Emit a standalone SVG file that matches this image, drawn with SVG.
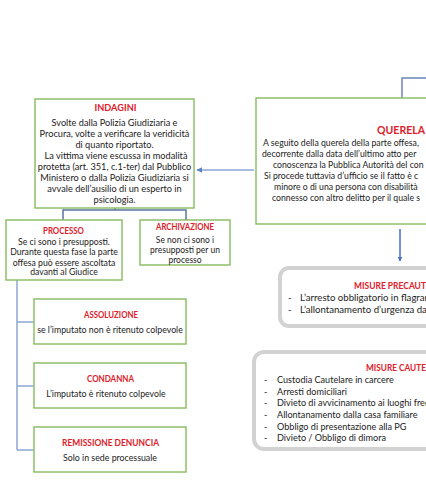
<svg xmlns="http://www.w3.org/2000/svg" width="426" height="480" viewBox="0 0 426 480">
<defs>
<style>
.box{fill:#fff;stroke:#8fbf6a;stroke-width:1.5}
.mis{fill:#fff;stroke:#d2d2d2;stroke-width:4}
.t{font-family:Lato,"Liberation Sans",sans-serif;font-size:8.8px;fill:#222}
.q{font-size:8.7px}
.i{font-size:9.2px}
.a{font-size:8.5px}
.p{font-size:9.6px}
.k{font-size:9.1px}
.c{text-anchor:middle}
.h{font-family:Lato,"Liberation Sans",sans-serif;font-weight:bold;font-size:9px;fill:#e0202a;text-anchor:middle}
.hs{font-family:Lato,"Liberation Sans",sans-serif;font-weight:bold;font-size:9px;fill:#e0202a}
.conn{fill:none;stroke-width:1.5}
</style>
<marker id="ah" viewBox="0 0 10 10" refX="9" refY="5" markerWidth="5" markerHeight="5" orient="auto" markerUnits="userSpaceOnUse">
<path d="M0,0 L10,5 L0,10 z" fill="#4472c4"/>
</marker>
<marker id="ah2" viewBox="0 0 10 10" refX="9" refY="5" markerWidth="6" markerHeight="6" orient="auto" markerUnits="userSpaceOnUse">
<path d="M0,0 L10,5 L0,10 z" fill="#5b82c8"/>
</marker>
</defs>
<rect width="426" height="480" fill="#fff"/>

<g id="connectors">
<path class="conn" d="M426,78 H402 V98" stroke="#6c84b5"/>
<path class="conn" d="M254,170 H197" stroke="#8aa6d6" marker-end="url(#ah2)"/>
<path class="conn" d="M400,229 V261" stroke="#4472c4" marker-end="url(#ah)"/>
<path class="conn" d="M115,208 V210 M63,220 V210 H186 V220" stroke="#5a74a2"/>
<path class="conn" d="M17,280 V450 M17,322 H34 M17,386 H34 M17,450 H34" stroke="#8ea6d0"/>
</g>

<g id="querela">
<rect class="box" x="256" y="98" width="200" height="126"/>
<text x="377" y="134" textLength="48" lengthAdjust="spacingAndGlyphs" class="hs" style="font-size:11.5px">QUERELA</text>
<text class="t q" x="263" y="146">A seguito della querela della parte offesa,</text>
<text class="t q" x="262" y="157">decorrente dalla data dell’ultimo atto per</text>
<text class="t q" x="273" y="168">conoscenza la Pubblica Autorità del con</text>
<text class="t q" x="264" y="179">Si procede tuttavia d’ufficio se il fatto è c</text>
<text class="t q" x="274" y="190">minore o di una persona con disabilità</text>
<text class="t q" x="272" y="201">connesso con altro delitto per il quale s</text>
</g>

<g id="indagini">
<rect class="box" x="35" y="99" width="159" height="109"/>
<text class="h" x="115.5" y="111" textLength="42" lengthAdjust="spacingAndGlyphs">INDAGINI</text>
<text class="t i c" x="114.5" y="126">Svolte dalla Polizia Giudiziaria e</text>
<text class="t i c" x="114.5" y="137">Procura, volte a verificare la veridicità</text>
<text class="t i c" x="114.5" y="148">di quanto riportato.</text>
<text class="t i c" x="116" y="159">La vittima viene escussa in modalità</text>
<text class="t i c" x="114.5" y="170">protetta (art. 351, c.1-ter) dal Pubblico</text>
<text class="t i c" x="114.5" y="181">Ministero o dalla Polizia Giudiziaria si</text>
<text class="t i c" x="114.5" y="192">avvale dell’ausilio di un esperto in</text>
<text class="t i c" x="114.5" y="203">psicologia.</text>
</g>

<g id="processo">
<rect class="box" x="6" y="220" width="116" height="60"/>
<text class="h" x="63.5" y="234" textLength="41" lengthAdjust="spacingAndGlyphs">PROCESSO</text>
<text class="t q c" x="64" y="244.5">Se ci sono i presupposti.</text>
<text class="t q c" x="64" y="255">Durante questa fase la parte</text>
<text class="t q c" x="64" y="265.5">offesa può essere ascoltata</text>
<text class="t q c" x="64" y="275">davanti al Giudice</text>
</g>

<g id="archiviazione">
<rect class="box" x="140" y="220" width="90" height="45"/>
<text class="h" x="185" y="229.5" textLength="58" lengthAdjust="spacingAndGlyphs">ARCHIVAZIONE</text>
<text class="t a c" x="185" y="242.5">Se non ci sono i</text>
<text class="t a c" x="185" y="252.5">presupposti per un</text>
<text class="t a c" x="185" y="262.5">processo</text>
</g>

<g id="assoluzione">
<rect class="box" x="34" y="299" width="152" height="45"/>
<text class="h" x="111" y="317.5" textLength="54" lengthAdjust="spacingAndGlyphs">ASSOLUZIONE</text>
<text class="t c" x="110" y="332.5">se l’imputato non è ritenuto colpevole</text>
</g>

<g id="condanna">
<rect class="box" x="34" y="363" width="152" height="45"/>
<text class="h" x="110.5" y="382" textLength="47" lengthAdjust="spacingAndGlyphs">CONDANNA</text>
<text class="t c" x="106" y="396.5">L’imputato  è ritenuto colpevole</text>
</g>

<g id="remissione">
<rect class="box" x="34" y="427" width="152" height="45"/>
<text class="h" x="110.5" y="445.5" textLength="97" lengthAdjust="spacingAndGlyphs">REMISSIONE DENUNCIA</text>
<text class="t c" x="110" y="460.5">Solo in sede processuale</text>
</g>

<g id="misure-precautelari">
<rect class="mis" x="280" y="268" width="200" height="58" rx="9"/>
<text class="hs" x="354" y="288.5" textLength="72" lengthAdjust="spacingAndGlyphs">MISURE PRECAUT</text>
<text class="t p" x="288" y="301">-</text>
<text class="t p" x="300" y="301">L’arresto obbligatorio in flagran</text>
<text class="t p" x="288" y="313">-</text>
<text class="t p" x="300" y="313">L’allontanamento d’urgenza dal</text>
</g>

<g id="misure-cautelari">
<rect class="mis" x="254" y="352" width="220" height="97" rx="10"/>
<text class="hs" x="366" y="370.5" textLength="60" lengthAdjust="spacingAndGlyphs">MISURE CAUTE</text>
<text class="t k" x="264" y="382.5">-</text>
<text class="t k" x="277" y="382.5">Custodia Cautelare in carcere</text>
<text class="t k" x="264" y="394.5">-</text>
<text class="t k" x="277" y="394.5">Arresti domiciliari</text>
<text class="t k" x="264" y="406">-</text>
<text class="t k" x="277" y="406">Divieto di avvicinamento ai luoghi freq</text>
<text class="t k" x="264" y="417.5">-</text>
<text class="t k" x="277" y="417.5">Allontanamento dalla casa familiare</text>
<text class="t k" x="264" y="429.5">-</text>
<text class="t k" x="277" y="429.5">Obbligo di presentazione alla PG</text>
<text class="t k" x="264" y="441">-</text>
<text class="t k" x="277" y="441">Divieto / Obbligo di  dimora</text>
</g>
</svg>
